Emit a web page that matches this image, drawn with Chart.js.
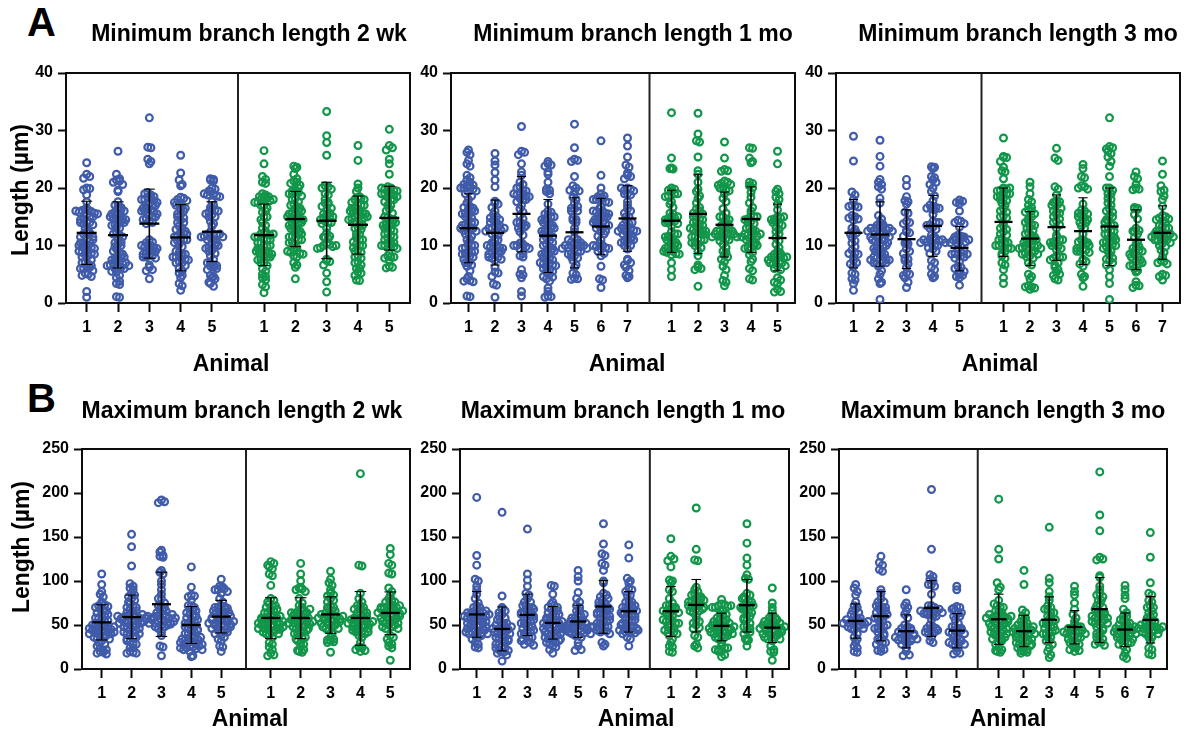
<!DOCTYPE html>
<html><head><meta charset="utf-8">
<script src="https://cdn.jsdelivr.net/npm/chart.js@4/dist/chart.umd.js"></script>
<style>
html,body{margin:0;padding:0;background:#fff;overflow:hidden;width:1185px;height:729px}
canvas{position:absolute;display:block}
.tag{position:absolute;font:bold 40px "Liberation Sans",Arial,sans-serif;color:#000;line-height:40px}
</style></head><body>
<div class="tag" style="left:27px;top:2px">A</div>
<div class="tag" style="left:27px;top:378px">B</div>
<script>
// ---------- values (µm), one inner list per animal ----------
const min2wkBlue=[
[24.4,22.4,22,21.7,20,19.9,19.7,18.8,17.6,16.3,16.2,16.1,15.9,15.8,15.6,15.4,15,14.6,14.2,14,13.8,13.6,12.4,12.2,12,11.5,11,10.8,10.5,10.2,10,9.8,9.6,9.4,9.2,8.8,8.6,8.4,8.2,7,6.8,6.4,6.2,6,5.6,5.2,5,4.8,4.6,2,1],
[26.4,22.4,21.6,21.4,21.2,21,20.6,19.6,19.4,17.6,16.8,16.6,16.4,16.2,15.8,15.4,15,14.8,14.6,14.4,14.2,13.6,13.2,12.4,11.8,11,10.6,10.2,10,9.8,9.4,8.8,8.2,8,7.8,7.4,7.2,7,6.8,6.6,6.4,6.2,6,5.4,4.8,4.4,3.8,3.4,3.2,1.1,1],
[32.2,27.1,27,25,24.6,24.2,19.2,18.8,18.4,18.2,18,17.8,17.4,17,16.6,16.4,16.2,16,15.8,15.4,15,14.6,14.2,14,13.8,11,10.6,10.2,10,9.8,9.6,9.4,9,8.6,8.4,8.2,8,7.8,6.6,6.2,5.8,5.6,4.2],
[25.7,22.6,21.4,20.6,20.4,18.4,18.2,18,17.8,17.2,16.8,16.4,16,15.4,14.8,14.4,14,13.4,13,12.8,12.4,12,11.6,11.2,11,10.8,10.2,9.8,8.8,8.6,8.4,8.2,8,7.6,7.2,7,6,5.6,5.2,4.8,4.4,3.4,3,2.2],
[21.6,21.5,21.4,21.2,20,19.8,19.4,19,18.8,18.6,17.6,16.6,16.4,16.2,15.8,15.4,15,14.2,13.8,13.4,12.4,12,11.9,11.8,11.6,11.4,11,10.4,10,9.6,9.2,8.6,8.2,7.6,7,6.6,6.4,6.2,5.8,4.8,4.6,4.4,4.2,3.6,3.4,2.9]];
const min2wkBlueBody=[
[16.5,16,15.5,15,14.5,14,13,12.5,11.5,11,10.5,10,9.5,9,8.5,8,7.5,7,6.5,6],
[17,16,15.5,15,14.5,14,13.5,13,12,11.5,10.5,9,8.5,8,7.5,7,6.5,6.5,6,5.5],
[19,18.5,18,17.5,17,16.5,16,15.5,15,14.5,10.5,10,9.5,9,8.5,8],
[17.5,17,16.5,15.5,15,14,12.5,12,11.5,11,10.5,9,8.5,8,7.5,7,6.5],
[19.5,19,18.5,17,16,15.5,15,12,11.5,11.5,11,10.5,10,9.5,9,7,6.5,6]];
const min2wkGreen=[
[26.5,24.2,22,21.5,21,20.8,19,18.8,18.5,18.4,18.2,18,17.8,17.5,17,16.5,15.8,15,14,13,12.2,12,12,11.8,11.5,11.2,11,10.5,10,9.8,9.5,9.2,9,8.8,8.6,8.4,8,7.6,7,6.5,6,5.5,5,4.6,4.4,4,3.2,2.8,1.8],
[23.8,23.6,23.4,22.4,21.6,21.2,21,20.8,20.5,19.6,19.4,19.2,19,18.6,18.2,17.6,17.2,16.8,16.4,16,15.6,15.2,15,14.8,14.6,14.4,14,13.6,13.2,12.8,12.4,12,11.6,11.2,11,10.6,10.2,9.6,9.2,9,8.8,8.6,8.2,8,7,6.6,6.2,4.2],
[33.3,29.1,27.9,25.7,20.4,20.2,20,19.8,19,18.8,18,17.4,17.2,16.8,16.2,15.6,15.4,15,14.8,14.2,14,13.8,13,12.2,11.6,11.4,11.2,10.4,10.2,10,9.8,9.6,7.6,7.4,7.2,6.6,5.2,3.7,1.9],
[27.4,24.8,20.7,20,19.4,18.4,18.2,18,17.4,17,16.6,16.2,16,15.8,15.6,15.4,15.2,15,14.8,14.6,14,13.6,13.2,12.8,12,11.4,11,10.6,10.2,10,9.6,9.2,8.8,8.2,7.8,7.2,6.6,6,5.4,5.2,4.8,4,3.9],
[30.2,27.4,27,26.6,25,24.2,22.4,20.2,20,19.8,19.6,19.4,19.2,19,18.8,18.4,18,17.6,17,16.4,15.6,15,14.6,14.4,14,13.6,13.2,12.8,12.2,11.8,11.2,10.8,10.4,10.2,10,9.8,8.6,8.2,8,7.8,7.4,6.4,6.2,6.1]];
const min2wkGreenBody=[
[18.5,18,17.5,17,16,15,14.5,13.5,12.5,12,11.5,11,10.5,10,9.5,9,8.5,8,7.5,7],
[20,19.5,19,18,17,16.5,16,15.5,15,14.5,14,13.5,13,12.5,12,11.5,11,10.5,9,8.5],
[17.5,16.5,15.5,15,14.5,14,11.5,10,9.5],
[18.5,18,17.5,17,16.5,16,15.5,15,14.5,14,13.5,13,12,11,10,9,8,7,6],
[20,19.5,19,18.5,18,17,16,15,14.5,14,13.5,13,12.5,12,11.5,11,10.5,10,9.5,8]];
const min1moBlue=[
[26.6,26.2,25.8,24.8,24.2,23.8,22.2,21.8,21.4,21,20.6,20.4,20.2,20,19.8,19.4,18.6,18,17.4,16.8,16.6,16.4,16,15.6,15.2,14.8,14.4,14,13.6,13.2,13,12.6,12.2,11.6,11,10.4,10,9.6,9,8.8,8.6,8.4,8.2,7.6,7,6.6,6.4,5.6,4.6,4.2,3.9,3.8,3.7,1.2,1.1],
[26,24.7,24,22.7,21.4,20.2,17.7,17.4,17.2,16.6,16,15.4,15,14.8,14.4,14,13.4,13.2,13,12.6,12.2,11.8,11,10.4,10,9.8,9.6,9.2,9,8.8,8.4,8,7.8,7.6,7.4,6.2,5.4,5.2,4.6,3.3,3.1,1],
[30.7,26.4,26.2,25.8,24.2,22.8,22.2,21,20.6,20.2,19.6,19.2,19,18.8,18.6,18.2,18,17.6,17,16.4,15.8,15.2,14.6,14,13.8,13.4,13.2,12.4,11.8,10.4,10.2,10,9.8,9.4,8.6,8.2,8,5.8,5,4.9,4.4,2,1.2],
[24.6,24.2,24,23.8,22.8,22.4,21,19.8,19.6,19.4,19,17.2,16,15.8,15.4,15,14.6,14.2,13.8,13.4,13,12.6,12.2,11.8,11.4,10.8,10.2,9.8,9.4,9,8.6,8.2,7.8,7.4,7,6.8,6.6,6.2,5.8,5.4,5,4.6,4.2,3.8,2.6,2,1.2,1.1,1],
[31.1,27,25,24.8,24.6,22,20.4,20,19.6,19.2,18.4,18,17.4,16.8,16.4,16,14.8,14.4,14,13,12.4,11.4,11,10.6,10.4,10.2,10,9.8,9.6,9.4,9,8.6,8.2,7.8,7.4,6.6,6.2,5.2,4.9,4.3,4.2,4.1],
[28.2,22.2,20,19,18.6,18.4,18.2,18,17.6,16.8,16.4,16,15.8,15.6,15.4,15,14.6,14.4,14.2,14,13.8,13.4,13,12.4,12,11.6,11,10.4,10,9.8,9.6,9.4,8.6,8.2,6.4,4.2,4,2.7],
[28.7,27.3,25.4,24,23.6,22.6,22.2,22,21.6,20,19.8,19.6,19,18.8,17.6,17,16.4,16,15.6,15,14.4,13.8,13.4,13,12.8,12.6,12.4,12,11.4,11,10.8,10.4,10,9.4,7.6,7.4,7,6.6,6.2,5.6,4.8,4.6,4.4]];
const min1moBlueBody=[
[20.5,20,19.5,19,16.5,16,15.5,15,14,13.5,13,13,12.5,12,11,10,9.5,9,8.5,8,7],
[14.5,14,13.5,13,13,12.5,12,11,10.5,10,9.5,9,8.5,8],
[20,19.5,19,18.5,18,14,13.5,13,10.5,10,9.5],
[15.5,15,14.5,14,13.5,13,12.5,12,11.5,11,10.5,10,9.5,9,8.5,8,7.5,7,6.5,6,5.5,4.5],
[10.5,10,10,9.5,9.5,9,16.5,16,19.5,14.5,11,8.5,8],
[18.5,18,17.5,16,15.5,15,14.5,14,13.5,13,12.5,10,9.5,9],
[19.5,19,13.5,13,12.5,12.5,12,11.5,11,10.5,10,20,15,14],
];
const min1moGreen=[
[33.1,25.2,23.5,23.4,23.3,20,19.8,19.6,19.4,19,18.6,17.6,17.2,16.6,15.6,15,14.8,14.6,14.4,14.2,14,13.8,13.4,12.4,12,11.6,11.2,10.8,10.4,10,9.6,9.2,9,8.8,8.6,8.4,7,5.8,4.6],
[33,29.4,28.2,28,25.4,23,22.4,21,19.8,19.4,18.6,18.2,17.4,16.6,16.4,16,15.6,15,14.6,14,13.8,13.4,13,12.8,12.6,12.4,12,11.6,11.2,11,10.6,10.2,9.6,9,8.2,6.6,6.2,6,5.8,2.9],
[28,25.2,23.2,23,22.9,21.2,21,20.8,20.6,20.2,19.6,19,18.2,17.6,16.4,15.6,15,14.6,14.2,13.8,13.4,13,12.6,12.4,12.2,12,11.8,11.6,11.4,11.2,10.8,10.2,9.6,9,8.8,8.4,8,7.6,7.2,6.4,5.8,4.8,3.9,3.6,3],
[27,26.9,25.2,24.6,24.4,21,20.8,20.4,20,19.2,18.4,17.4,16.6,16,15.4,15,14.6,14.2,13.8,13.2,12.8,12.4,12,11.8,11.6,11.2,10.8,10.4,10,9.6,9.2,8.8,8.4,7.6,7.2,6,5.6,4.2,4],
[26.4,24.2,19.8,19.4,19,18.4,18,17.2,16.2,15,14.8,14.6,14.2,13.8,13.2,12.8,12.4,12,11.4,10.8,10.2,9.6,9,8.6,8.4,8.2,8,7.8,7.4,7,6.8,6.4,5.8,4.4,4,3.6,3.4,2.4,2,1.9]];
const min1moGreenBody=[
[19,18.5,15.5,15,14.5,14,12,11.5,11,10.5,10,9.5,9,8.5],
[15.5,15,14.5,14,13.5,13,12.5,12,11.5,11,10.5,10],
[13.5,13,12.5,12.5,12,12,11.5,11.5,11,20.5,20,19.5,15,14.5],
[15,14.5,14,13,12.5,12,12,11.5,11,10.5,10,9.5],
[15,14.5,14,13.5,8.5,8,8,7.5,7,7,6.5,6],
];
const min3moBlue=[
[29,24.7,19.3,18.8,18,17,16.9,16.8,16.7,15.2,15,14.8,14.6,14.4,13,12.8,12.4,12.2,12,11.4,10.8,10.4,9.8,9.2,8.7,8.6,8.5,8,7.4,7,6.8,6.4,5.2,5,4.2,4,3.4,2.2],
[28.3,25.5,23.8,21.5,21,20.6,20.2,19.8,18.2,17.4,15.2,14.6,14,13.6,13.4,13.2,13,12.8,12.6,12.4,12,11.6,11.2,11,10.8,10.4,10,9.6,9.2,8.8,8.4,8,7.8,7.6,7.4,7.2,6.8,6.4,5.6,5,4.2,3.6,3.4,0.6],
[21.5,20.4,18.5,17.8,17.6,17.2,15.8,15.6,14.2,14,13.8,12.6,12.4,12.2,11.6,10.6,10.4,10.3,9.4,9,8.6,7.8,7.6,7.4,6.8,6.2,5.2,5,4.8,4.4,3.6,2.7],
[23.7,23.6,23.4,22,21.8,21.4,21,20.6,20,19.4,18.6,17.8,16.8,16.6,16.4,16.2,15.4,14.2,14,13.6,13.2,12.8,11.8,11.4,11.2,11,10.8,10.6,10.4,10,9.6,9.4,9,8.6,7.4,7,6.2,5.8,5,4.6,4.4],
[17.9,17.7,17.5,17.3,16,14.4,14.2,14,13.8,13.2,11.8,11.6,11.5,11.4,11.3,11,10.6,10.2,9.8,9.4,8.8,8.6,8.4,8.2,7.8,7.2,6.4,6.2,6,5,4.8,4.6,4.4,3.1]];
const min3moBlueBody=[
[],
[13.5,13,13,12.5,12.5,12,12,11.5,11.5,11,11,10.5,10,9.5,9,8.5,8,7.5,7.5,7,7],
[],
[14,13.5,13,11.5,11,11,10.5,10.5,10,17,16.5,16.5],
[11.5,11,11,10.5,9,8.5,8.5,8,5.5],
];
const min3moGreen=[
[28.7,25.5,25.4,25.3,24.6,23.6,23,22.8,21.6,20,19.8,19.6,19.2,19,18.6,18.2,17.8,17.4,16.4,15.8,15.2,14.8,14,13.4,12.8,12.4,11.8,11.2,10.6,10.4,10.2,10,9.6,8.6,8.2,7.8,7,6.6,5.8,4.4,3.4],
[21,20.2,19,18,17.6,17,16.6,16.2,16,15.8,14.6,14.2,13.6,13.2,12.6,12.2,11.8,11.4,11,10.8,10.4,10.2,10,9.8,9.6,9.2,8.8,8.6,8.2,7.8,7,6.6,5,4.6,4.2,3,2.8,2.8,2.6,2.4],
[26.9,25.2,24.8,20.2,19.8,18.8,17.8,17.6,17.4,17.2,15.8,15.6,15.4,14.6,14.2,13.6,13,11.8,11.4,11,10.6,10.2,9.8,9.2,8.2,8,7.8,6.6,6.2,5.8,5.4,5,4.8,4.2,4],
[24.1,23.4,22,21.8,20.4,20.2,20,19.8,17.2,16.2,16,15.6,15.2,14.8,14.4,14,13.4,13,12,11,10.8,10.6,10.4,10.2,9.6,9.4,9.2,9,8.8,7.6,7.4,7.2,6.8,6.4,5,4.6,4.4,2.9],
[32.2,27.2,27,26.8,26.4,26,25.4,24.6,23.8,22,20,19.6,19,18.2,17.4,16.4,15.8,15.2,14.4,13.6,13.2,12.6,12,11.6,11.2,10.8,10.6,10.4,10.2,9.8,9,8.4,7.8,7.6,7.4,7,6.6,5.8,4.6,3.4,0.6],
[22.8,22,21.6,20.6,20,19.8,19.7,16.6,16.5,16.4,16.3,15.4,14.6,13,12.6,12.4,11.4,10.6,10.2,9.8,9.4,9.2,8.8,8.4,8,7.2,6.8,6.6,6,5.6,5.4,3.7,3.1,3,2.7],
[24.7,22.4,20.4,19.6,19.4,18.6,18,16.8,15.2,15,14.8,14.6,14.2,13.4,13,12.6,12.2,12,11.8,11.6,11.4,11.2,10.8,10.4,9.8,9.2,8.8,8,7.4,7.2,7,6.8,5,4.8,4.6,4]];
const min3moGreenBody=[
[20,19.5,19,18.5,18,17,16,15,13,12,11,10.5,10,9.5,9],
[15.5,15,14,13.5,13,12,11.5,11,10.5,10,9.5,9.5,9,8.5,8.5,8],
[17.5,17,16.5,16,15,14,11,10.5,10,9.5,8,7.5,7],
[15.5,15,14.5,14,10.5,10,9.5,9],
[20,19,18,17,16,15,14.5,14,13.5,13,12.5,12,11.5,11,10.5,10,9.5,9],
[12.5,12,9.5,9,8.5,8,7.5,7,6.5],
[14.5,14,13.5,13,12.5,12,12,11.5,11.5,11,11,10.5,10],
];
const max2wkBlue=[
[108,96,88,85,82,76,74,73,72,71,68,66,64,62,60,58,56,54,52,50,48,47,46,46,45,44,44,43,42,41,40,38,36,34,32,28,24,21,20,19,18,17],
[153,139,117,97,94,92,90,86,84,82,80,78,76,74,72,70,68,66,64,62,61,60,60,59,58,57,56,55,54,54,53,52,50,48,46,44,42,40,38,36,34,31,28,24,20,19,18,18],
[192,190,189,135,133,129,128,127,112,110,108,100,96,90,85,80,75,72,70,68,66,64,62,61,60,60,59,58,57,56,55,54,53,52,51,50,48,46,42,38,26,25,15],
[116,93,84,83,82,78,72,70,68,66,64,62,60,58,56,54,52,50,48,46,45,44,42,40,38,36,35,34,33,32,31,30,28,27,26,25,24,23,22,20,15,14],
[102,94,93,92,91,90,88,86,80,76,72,71,70,69,68,66,64,62,60,58,57,56,55,54,53,52,51,50,49,48,46,44,42,38,36,34,32,26,25,20]];
const max2wkBlueBody=[
[70,66,62,58,55,52,50,48,46,44,42,40,38,36,34,30,26,22],
[70,66,62,60,58,56,54,52,50,48,46,44,42,40,36,32,28,24],
[62,60,58,56,54,52,50,48,72,66,80],
[72,66,60,56,52,48,44,40,36,34,32,30,28,26,24,22],
[90,70,68,66,64,62,60,58,56,54,52,50,48,46,44,42,40],
];
const max2wkGreen=[
[122,120,118,116,114,108,106,95,80,78,76,74,72,70,68,66,64,62,60,59,58,57,56,55,54,53,52,51,50,49,48,47,46,45,44,42,40,38,30,28,25,22,18,16,15],
[120,108,100,93,92,91,90,88,80,75,72,70,68,66,65,64,63,62,60,58,56,55,54,53,52,51,50,48,46,44,42,40,38,36,34,30,28,26,22,21,20,19],
[111,102,98,95,90,86,84,83,80,78,76,72,70,68,66,64,62,61,60,59,58,57,56,55,54,52,50,48,46,44,40,36,34,33,32,31,30,19],
[222,118,117,86,80,76,72,70,68,66,64,62,60,58,56,55,54,53,52,51,50,48,46,44,43,42,40,38,36,30,25,24,22,21,20],
[137,130,120,118,109,108,92,88,84,80,78,76,74,72,71,70,69,68,67,66,65,64,63,62,61,60,58,56,54,52,50,48,46,38,36,34,30,28,26,24,10]];
const max2wkGreenBody=[
[72,68,64,60,58,56,54,52,50,48,46,44,42,40,36],
[68,64,62,60,58,56,54,52,50,48,46,44,40,36,32],
[62,60,58,56,54,52,50,48,46,70,66],
[64,60,58,56,54,52,50,48,46,44,42,72,68],
[76,72,70,68,66,64,62,60,58,56,54,52,50,48,46],
];
const max1moBlue=[
[195,129,118,102,100,94,90,85,80,75,72,70,68,66,65,64,63,62,60,58,57,56,55,54,52,50,48,46,45,44,43,42,41,40,38,36,34,30,28,25,24],
[178,83,70,68,66,62,58,54,52,50,48,46,45,44,42,40,38,36,35,34,32,30,28,26,24,22,21,20,19,18,16,9],
[159,108,101,94,86,84,80,76,72,70,68,66,64,62,60,58,56,54,52,50,48,46,44,42,40,38,36,34,32,30,28,27],
[95,94,85,76,74,72,70,68,66,64,62,60,58,56,55,54,52,50,48,47,46,44,42,40,38,36,34,32,30,28,26,25,22,18],
[112,105,100,87,80,76,72,70,66,62,60,58,56,54,52,50,49,48,47,46,45,44,43,42,41,40,38,36,30,26,22,21],
[165,142,131,129,120,118,112,100,98,86,84,82,78,75,72,70,68,66,64,62,60,58,56,54,52,50,48,46,44,43,42,40,30,28,26],
[141,126,103,100,98,92,90,88,84,78,76,74,72,70,68,66,64,62,60,58,56,54,52,50,48,46,44,43,42,41,40,36,34,26]];
const max1moBlueBody=[
[70,66,62,60,58,56,54,52,50,48,46,44,42,40,38,64,62,60],
[64,60,56,52,50,48,46,44,42,40,36,32,28,24],
[76,72,68,64,60,56,52,48,44,40,36,32,70,62],
[70,66,62,58,56,54,52,50,48,46,44,42,40,38,36,34,32,30],
[66,62,58,56,54,52,50,48,46,44,42,40,38,48,46,44],
[76,72,68,64,60,56,52,48,44,80,70,62],
[84,76,72,68,64,60,56,52,48,44,70,66,62,50,46,44],
];
const max1moGreen=[
[148,128,125,123,116,101,100,98,90,88,80,75,72,70,68,66,64,60,56,55,54,52,50,46,44,42,41,40,38,34,30,26,25,20,19],
[183,136,124,123,93,90,88,85,82,80,78,76,74,72,70,68,66,64,60,56,54,52,50,47,46,38,36,28,26,24],
[79,74,73,72,71,70,66,62,60,58,56,54,52,50,49,48,47,46,45,44,43,42,41,40,38,36,34,30,26,24,22,20,16,14],
[165,143,126,118,107,103,102,86,84,82,80,78,74,72,70,68,66,62,60,58,56,52,48,46,44,42,40,34,33,32,26],
[92,75,70,66,60,58,56,54,52,50,49,48,47,46,45,44,43,42,40,38,36,34,32,26,22,20,19,10]];
const max1moGreenBody=[
[72,70,68,66,64,60,56,52,48,44],
[80,76,74,72,70,68,66,84,82,78],
[72,70,66,62,56,54,52,50,48,46,44,42,40,38,36,24,22,20],
[80,76,72,70,68,64,56,48],
[58,56,54,52,50,48,46,44,42,40,38,36,34],
];
const max3moBlue=[
[96,92,88,84,76,72,68,64,60,58,56,55,54,53,52,51,50,48,46,44,40,36,34,30,26,24,20,19],
[128,121,118,113,111,90,86,80,76,72,70,68,66,64,62,60,58,54,50,48,46,44,40,36,32,30,28,24,22,21,20],
[90,75,72,70,66,62,58,50,48,46,44,42,40,38,36,35,34,33,32,30,28,24,20,16,15],
[204,136,107,105,102,96,94,85,72,70,68,66,65,64,63,62,60,56,50,48,46,44,42,40,36,32,30],
[94,90,71,70,69,66,64,62,60,56,52,48,46,44,42,40,36,34,32,30,28,26,24,20,18,17]];
const max3moBlueBody=[
[70,66,62,58,56,54,52,50,48,46],
[76,72,70,66,62,58,54,50,46,42,38,34,30],
[46,44,42,40,38,36,34,32],
[72,68,66,64,62,60,46,44,42,100,96],
[68,64,60,48,46,44,42,40,36,32,30,28],
];
const max3moGreen=[
[193,136,125,98,93,90,78,72,70,66,64,62,61,60,59,58,57,56,55,54,52,50,48,46,44,42,40,38,34,30,24,22,21,20,19],
[112,96,67,64,60,56,52,50,48,46,45,44,43,42,41,40,38,36,34,32,30,28,24,22,21,20,19,18],
[161,103,98,88,82,78,72,70,68,64,60,56,54,52,50,48,46,44,42,40,36,32,28,24,20,16,13],
[94,88,84,75,68,62,58,54,50,48,46,44,43,42,41,40,38,36,32,30,26,24,22,21,20],
[224,175,157,127,125,124,106,104,94,90,86,82,78,74,70,66,64,62,60,58,56,54,52,50,46,42,38,34,31,30,28,27],
[95,90,84,80,68,64,60,56,52,50,48,46,45,44,43,42,41,40,38,36,34,32,30,26,22,18,14,12],
[155,127,98,86,84,78,72,70,64,60,56,54,52,50,49,48,47,46,45,44,42,40,36,32,24,22,17,16]];
const max3moGreenBody=[
[74,70,66,62,60,58,56,54,52,50,48,46,44,42,40,38,36,34,32,28],
[58,54,50,48,46,44,42,40,38,36,34,32,30,28,26,24],
[68,64,60,56,52,48,44,40,36,32],
[48,46,44,42,40,38,36,34,30,28],
[84,78,72,68,64,62,60,58,56,54,52,48,44,40,36],
[60,56,52,50,48,46,44,42,40,38,36,34,32,30,28],
[76,70,66,62,58,54,50,48,46,44,42,40,36],
];

// ---------- mean and SD limits: [low, mean, high] per animal ----------
const min2wkBlueStats=[[6.7,12.2,17.7],[6.1,11.8,17.6],[7.8,13.8,19.8],[5.6,11.4,17.1],[7.2,12.4,17.6]];
const min2wkGreenStats=[[6.5,11.8,17.2],[9.8,14.6,19.4],[7.7,14.3,21],[8.5,13.6,18.6],[9.2,14.8,20.3]];
const min1moBlueStats=[[7,13,19],[6.6,12.2,17.9],[8.9,15.5,22],[5.3,11.7,18],[6.1,12.3,18.3],[8.4,13.3,18.2],[9,14.7,20.4]];
const min1moGreenStats=[[8.8,14.3,19.6],[8.6,15.5,22.3],[8,13.6,19.3],[8.8,14.6,20.2],[5.6,11.3,17.2]];
const min3moBlueStats=[[6.1,12.2,18],[6.4,11.9,17.6],[6,11.1,16.2],[8.1,13.4,18.7],[5.6,9.6,13.3]];
const min3moGreenStats=[[8.1,14.1,20],[6.5,11.2,15.9],[7.4,13.2,18.8],[6.7,12.5,18.3],[6.5,13.3,20],[5.8,11,16.2],[7.6,12.2,16.9]];
const max2wkBlueStats=[[33,53,73],[34.5,59,84],[37,73.6,110],[29,50,71],[41,59.5,78]];
const max2wkGreenStats=[[34.5,58,81],[34.5,58,81],[40.6,62,82],[27,58,88],[39,63.7,87.6]];
const max1moBlueStats=[[36,62,88],[20.5,45.5,70.5],[38,61.5,85],[34,52.4,71],[36,54,72.5],[40.6,71,100.5],[42,65.6,88]];
const max1moGreenStats=[[37,65.6,93.7],[42,72.8,101.7],[32,49,63.4],[42,72.5,101.7],[30,47,63.4]];
const max3moBlueStats=[[35,54.6,74],[32,60,88],[24,43,61.5],[37,69.4,100.5],[24,43.6,63]];
const max3moGreenStats=[[28,56.5,85],[25.4,43,61],[30,56,82],[28.5,47.8,66.4],[30,68,104],[25.4,44.8,63.7],[29.6,55.8,82.3]];

// ---------- text ----------
const panelTitles=["Minimum branch length 2 wk","Minimum branch length 1 mo","Minimum branch length 3 mo","Maximum branch length 2 wk","Maximum branch length 1 mo","Maximum branch length 3 mo"];
const xAxisTitle="Animal";
const yAxisTitle="Length (µm)";
const yMaxByPanel=[40,40,40,250,250,250];
const yStepByPanel=[10,10,10,50,50,50];

// ---------- layout (pixels) ----------
const plotLeft=[66,451,836,82,460,839];
const plotRight=[410,795,1180,410,789,1167];
const plotTop=[73,73,73,449,449,449];
const plotBottom=[303,303,303,669,669,669];
const yGutter=[60,34,34,75,42,42];
const titleCenterX=[249,633,1018,242,623,1003];
const titleCenterY=[35,35,35,412,412,412];
const xTitleCenterX=[231,627,1000,250,636,1008];
const xTitleCenterY=[365,365,365,720,720,720];
const yTitleCenterY=[190,190,190,547,547,547];
const capHalf=[5.5,4.6,4.6,5.8,4.8,4.8];
const meanHalf=[10,9,9,9.5,8,8];
const swarmBin=[1,1,1,6,6,6];

const BLUE="#3F5BA9",GREEN="#11964A",INK="#0c0c0c";
const FONT='"Liberation Sans",Arial,sans-serif';

function swarm(values,pos,bin,dx){
  const groups=new Map(),out=[];
  values.forEach(v=>{const k=Math.round(v/bin);if(!groups.has(k))groups.set(k,[]);groups.get(k).push(v);});
  groups.forEach(g=>{const c=g.length;g.forEach((v,i)=>{
    const side=i%2?1:-1;
    const m=c%2?Math.ceil(i/2)*side:(Math.floor(i/2)+0.5)*side;
    out.push({x:pos+m*dx,y:v});
  });});
  return out;
}
const framePlugin={id:'frame',
  afterLayout(ch){
    const o=ch.options.plugins.frame;
    const tb=ch.titleBlock;
    const dx=o.titleX-o.canvasLeft-(tb.left+tb.right)/2;
    tb.left+=dx;tb.right+=dx;
    const sx=ch.scales.x,sy=ch.scales.y;
    const ddx=o.xTitleX-o.canvasLeft-(sx.left+sx.right)/2;
    const ox=sx.drawTitle;
    sx.drawTitle=function(){const l=this.left,r=this.right;this.left+=ddx;this.right+=ddx;ox.call(this);this.left=l;this.right=r;};
    const ddy=o.yTitleY-o.canvasTop-(sy.top+sy.bottom)/2;
    const oy=sy.drawTitle;
    sy.drawTitle=function(){const t=this.top,b=this.bottom;this.top+=ddy;this.bottom+=ddy;oy.call(this);this.top=t;this.bottom=b;};
  },
  afterDatasetsDraw(ch){
    const {ctx,chartArea:a}=ch;
    ctx.save();ctx.strokeStyle=INK;ctx.lineWidth=2;ctx.beginPath();
    ctx.moveTo(a.left-1,a.top);ctx.lineTo(a.right+1,a.top);
    ctx.moveTo(a.right,a.top);ctx.lineTo(a.right,a.bottom);ctx.stroke();ctx.restore();
  }};

function build(i,blue0,blueBody,green0,greenBody,blueStats,greenStats){
  const blue=blue0.map((v,k)=>v.concat(blueBody[k]));
  const green=green0.map((v,k)=>v.concat(greenBody[k]));
  const nb=blue.length,ng=green.length;
  const L=plotLeft[i],R=plotRight[i],T=plotTop[i],B=plotBottom[i];
  const xMin=1-0.66,xMax=nb+1.66+ng-1+0.66;
  const step=(R-L)/(xMax-xMin),dx=3.1/step;
  const bluePos=blue.map((_,k)=>k+1),greenPos=green.map((_,k)=>nb+1.66+k);
  const tickPos=bluePos.concat(greenPos);
  const tickLab=blue.map((_,k)=>String(k+1)).concat(green.map((_,k)=>String(k+1)));
  const blueDots=blue.flatMap((v,k)=>swarm(v,bluePos[k],swarmBin[i],dx));
  const greenDots=green.flatMap((v,k)=>swarm(v,greenPos[k],swarmBin[i],dx));
  const stats=blueStats.concat(greenStats);
  const whisk=stats.flatMap((s,k)=>[{x:tickPos[k],y:s[0]},{x:tickPos[k],y:s[2]},{x:tickPos[k],y:null}]);
  const means=stats.map((s,k)=>({x:tickPos[k],y:s[1]}));
  const caps=stats.flatMap((s,k)=>[{x:tickPos[k],y:s[0]},{x:tickPos[k],y:s[2]}]);
  const yMax=yMaxByPanel[i],div=nb+0.83;
  const tSize=23,tLH=tSize*1.2,head=60;
  const canvasTop=T-head,padTop=titleCenterY[i]-tLH/2-canvasTop;
  const xSize=23,xLH=xSize*1.2;
  const xBottom=Math.ceil(xTitleCenterY[i]+xLH/2);
  const xPad=xBottom-xTitleCenterY[i]-xLH/2;
  const cLeft=L-yGutter[i],cW=yGutter[i]+(R-L)+4,cH=xBottom-canvasTop;
  const c=document.createElement('canvas');
  c.width=cW;c.height=cH;c.style.left=cLeft+'px';c.style.top=canvasTop+'px';c.style.width=cW+'px';c.style.height=cH+'px';
  document.body.appendChild(c);
  const tickFont={family:FONT,size:16,weight:'bold'};
  new Chart(c,{type:'scatter',plugins:[framePlugin],
    data:{datasets:[
      {data:means,pointStyle:'line',pointRadius:meanHalf[i],pointBorderWidth:2.3,pointBorderColor:'#000',showLine:false,order:0},
      {data:caps,pointStyle:'line',pointRadius:capHalf[i],pointBorderWidth:1.1,pointBorderColor:'#000',showLine:false,order:1},
      {data:whisk,showLine:true,pointRadius:0,borderColor:'#000',borderWidth:1.6,spanGaps:false,order:2},
      {data:[{x:div,y:0},{x:div,y:yMax}],showLine:true,pointRadius:0,borderColor:'#222',borderWidth:2,order:3},
      {data:greenDots,pointStyle:'circle',pointRadius:3.4,pointBorderWidth:2.2,pointBorderColor:GREEN,pointBackgroundColor:'rgba(0,0,0,0)',showLine:false,order:4},
      {data:blueDots,pointStyle:'circle',pointRadius:3.4,pointBorderWidth:2.2,pointBorderColor:BLUE,pointBackgroundColor:'rgba(0,0,0,0)',showLine:false,order:5}
    ]},
    options:{responsive:false,animation:false,devicePixelRatio:1,
      layout:{autoPadding:false,padding:{right:4,top:0,left:0,bottom:0}},
      plugins:{legend:{display:false},tooltip:{enabled:false},
        frame:{canvasLeft:cLeft,canvasTop:canvasTop,titleX:titleCenterX[i],xTitleX:xTitleCenterX[i],yTitleY:yTitleCenterY[i]},
        title:{display:true,text:panelTitles[i],color:'#000',font:{family:FONT,size:tSize,weight:'bold',lineHeight:1.2},padding:{top:padTop,bottom:head-tLH-padTop}}},
      scales:{
        x:{type:'linear',min:xMin,max:xMax,
          afterBuildTicks(s){s.ticks=tickPos.map(v=>({value:v}));},
          afterFit(s){s.height=cH-(B-canvasTop);},
          ticks:{autoSkip:false,maxRotation:0,minRotation:0,color:'#000',font:tickFont,padding:6,callback(v){return tickLab[tickPos.indexOf(v)];}},
          grid:{display:true,drawOnChartArea:false,drawTicks:true,tickLength:9,tickWidth:2,tickColor:INK},
          border:{display:true,color:INK,width:2},
          title:{display:true,text:xAxisTitle,color:'#000',font:{family:FONT,size:xSize,weight:'bold',lineHeight:1.2},padding:{top:0,bottom:xPad}}},
        y:{type:'linear',min:0,max:yMax,
          afterFit(s){s.width=yGutter[i];},
          ticks:{stepSize:yStepByPanel[i],color:'#000',font:tickFont,padding:5},
          grid:{display:true,drawOnChartArea:false,drawTicks:true,tickLength:8,tickWidth:2,tickColor:INK},
          border:{display:true,color:INK,width:2},
          title:{display:i%3===0,text:yAxisTitle,color:'#000',font:{family:FONT,size:23,weight:'bold',lineHeight:1.2},padding:{top:2,bottom:0}}}
      }}});
}
build(0,min2wkBlue,min2wkBlueBody,min2wkGreen,min2wkGreenBody,min2wkBlueStats,min2wkGreenStats);
build(1,min1moBlue,min1moBlueBody,min1moGreen,min1moGreenBody,min1moBlueStats,min1moGreenStats);
build(2,min3moBlue,min3moBlueBody,min3moGreen,min3moGreenBody,min3moBlueStats,min3moGreenStats);
build(3,max2wkBlue,max2wkBlueBody,max2wkGreen,max2wkGreenBody,max2wkBlueStats,max2wkGreenStats);
build(4,max1moBlue,max1moBlueBody,max1moGreen,max1moGreenBody,max1moBlueStats,max1moGreenStats);
build(5,max3moBlue,max3moBlueBody,max3moGreen,max3moGreenBody,max3moBlueStats,max3moGreenStats);
</script>
</body></html>
